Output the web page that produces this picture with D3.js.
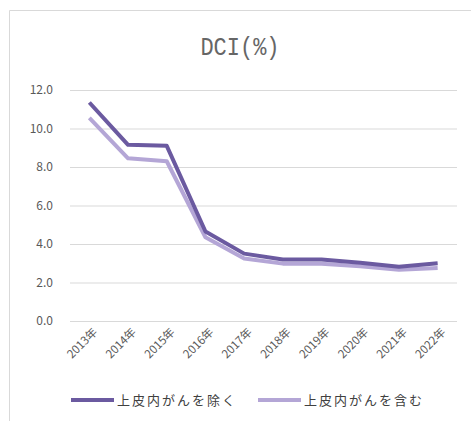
<!DOCTYPE html>
<html><head><meta charset="utf-8">
<script src="https://cdn.jsdelivr.net/npm/d3@7"></script>
<style>body{margin:0;background:#fff}svg{display:block}</style>
</head><body>
<svg id="c" width="471" height="421"></svg>
<script>
const categories = ["2013年","2014年","2015年","2016年","2017年","2018年","2019年","2020年","2021年","2022年"];
const excludeValues = [11.35, 9.15, 9.1, 4.65, 3.5, 3.2, 3.2, 3.03, 2.82, 3.0];
const includeValues = [10.55, 8.45, 8.3, 4.35, 3.25, 2.98, 2.98, 2.85, 2.66, 2.75];
const yTicks = [0, 2, 4, 6, 8, 10, 12];
const seriesNames = ["上皮内がんを除く", "上皮内がんを含む"];
const colors = ["#6b5aa0", "#b4a6d6"];

const svg = d3.select("#c");
const font = "'Noto Sans CJK JP', 'DejaVu Sans', sans-serif";

// frame
svg.append("path").attr("d","M9.5,421 V10.5 H471").attr("fill","none").attr("stroke","#d9d9d9").attr("stroke-width",1);

const x = d3.scaleBand().domain(categories).range([70, 457]);
const y = d3.scaleLinear().domain([0, 12]).range([321, 90]);

// title
svg.append("text").attr("x", 240).attr("y", 0)
  .attr("transform","translate(0,55) scale(1,1.2)")
  .attr("text-anchor","middle")
  .attr("font-family", "'Liberation Mono', monospace").attr("font-size", 22)
  .attr("fill", "#666").text("DCI(%)");

// grid
const yAxis = d3.axisLeft(y).tickValues(yTicks).tickSize(-(457-70)).tickFormat(d3.format(".1f"));
const gy = svg.append("g").attr("transform","translate(70,0)").call(yAxis);
gy.select(".domain").remove();
gy.selectAll(".tick line").attr("stroke","#d9d9d9");
gy.selectAll(".tick text").attr("x", -17).attr("fill","#595959").attr("font-size", 12).attr("font-family", font);

// x axis labels
const xAxis = d3.axisBottom(x).tickSize(0);
const gx = svg.append("g").attr("transform","translate(0,321)").call(xAxis);
gx.select(".domain").remove();
gx.selectAll(".tick text").attr("text-anchor","end").attr("fill","#595959")
  .attr("font-size", 11.5).attr("font-family", font)
  .attr("transform","translate(6,9) rotate(-45)").attr("dy","0.35em").attr("y",0);

const line = d3.line().x((d,i)=>x(categories[i]) + x.bandwidth()/2).y(d=>y(d));
[includeValues, excludeValues].forEach((vals, k) => {
  svg.append("path").datum(vals).attr("d", line).attr("fill","none")
    .attr("stroke", colors[1-k]).attr("stroke-width", 4).attr("stroke-linejoin","round");
});

// legend
const legendX = [71, 258];
seriesNames.forEach((n, i) => {
  const g = svg.append("g").attr("transform", `translate(${legendX[i]},400)`);
  g.append("line").attr("x1",0).attr("x2",43).attr("stroke",colors[i]).attr("stroke-width",4);
  g.append("text").attr("x", 46).attr("dy","0.35em").attr("fill","#404040")
    .attr("font-size", 13).attr("font-family", font).attr("letter-spacing", 2).text(n);
});
</script>
</body></html>
